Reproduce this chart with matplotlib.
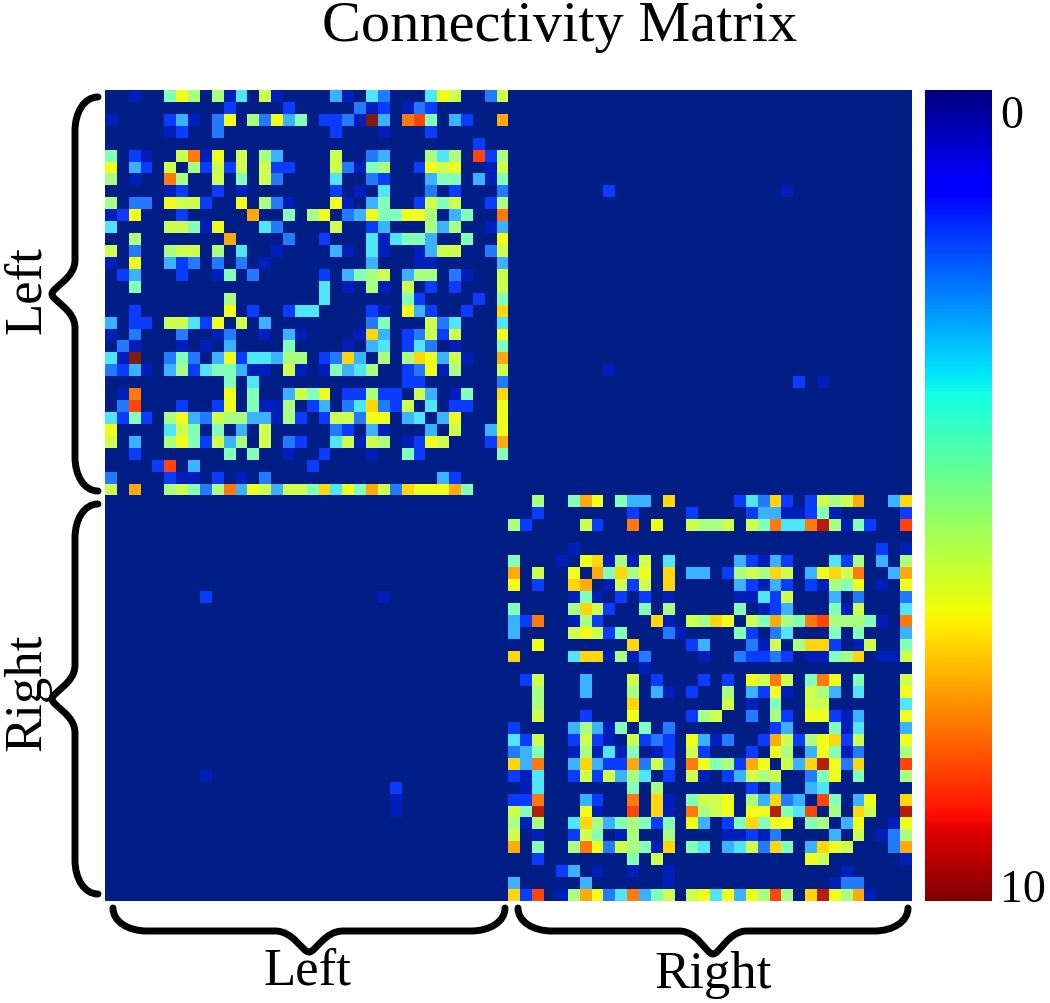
import matplotlib
matplotlib.use("Agg")
import matplotlib.pyplot as plt
import numpy as np
from matplotlib.cm import ScalarMappable
from matplotlib.colors import ListedColormap, Normalize
from matplotlib.patches import PathPatch
from matplotlib.path import Path

plt.rcParams['font.family'] = ['Liberation Serif', 'DejaVu Serif']

W, H = 1050, 1004
n_half = 34

# colour classes -> connectivity value
levels = {'a': 0.5, 'b': 1.6, 'c': 2.3, 'd': 2.9, 'e': 3.5, 'f': 4.3, 'g': 5.0, 'h': 5.7,
          'i': 6.3, 'j': 6.9, 'k': 7.4, 'l': 8.0, 'm': 8.6, 'n': 9.5, 'o': 10.0}

# upper triangle of left hemisphere, one string per row: "<col><class>"
left_rows = [
    "2a 5f 6i 7g 9g 10a 11e 13h 14a 19d 20a 22e 23c 27e 28i 29h 32c 33h",
    "10b 15b 21c 22a 23b 25a 26c 27b",
    "5b 6d 7a 9c 10i 12g 13c 14i 15d 16f 18b 19b 20c 21a 22o 23d 25l 26m 27f 29d 30b 33k",
    "5a 6b 9c 19b 23a 27b",
    "31b",
    "6h 7l 8a 9i 11h 13g 14d 19h 22c 23d 27g 28e 29g 31m 32b 33g",
    "7g 8b 9h 10b 11h 13h 14b 15b 19h 20c 21a 22f 23g 26b 27i 28h 29i 32a 33h",
    "9h 11f 13h 14c 19e 22c 23b 27d 28f 29f 31d 32a 33f",
    "9b 11a 19b 21a 23e 27c 29b 33c",
    "11i 13g 14c 15a 19i 20a 22d 23f 26b 27h 28f 29h 32b 33g",
    "12k 15f 17g 18i 20c 21d 22i 23f 24f 25i 26i 27g 29d 30f 33l",
    "13e 14c 19h 22b 23d 27g 28d 29g 32a 33d",
    "15c 18b 22e 23a 24e 25f 26f 27d 30f 33i",
    "14a 19d 20a 22e 23a 26a 27d 28h 29h 32c 33h",
    "22d 26a 27a 33d",
    "18b 20d 21f 22g 23h 25d 26g 27g 29c 30a 33h",
    "18e 20a 22g 23a 25h 27b 29b 33h",
    "18e 25f 26b 31b 33f",
    "22b 23a 25i 26d 27b 30b 33j",
    "22c 23f 27h 28c 29e 33e",
    "21a 22j 23d 25b 26c 27h 28b 29h 33i",
    "22d 23e 25b 26e 27c 29a 33f",
    "23g 25g 26j 27i 28d 29h 30a 33k",
    "25b 26c 27i 28a 29g 33h",
    "25b 26b 33c",
    "26h 27d 29a 30f 33j",
    "27e 29b 30b 33i",
    "28d 29i 33i",
    "29h 32d 33i",
    "32b 33k",
    "33f",
    "",
    "",
    "",
]

# same for right hemisphere
right_rows = [
    "2g 5f 6k 7i 9f 10d 11d 13j 19b 20e 21c 22j 23b 25b 26h 27g 28h 29k 32d 33j",
    "2b 10b 15b 20b 21d 22d 23a 24a 25b 26f 27a 33b",
    "6h 7b 10l 12i 15h 16g 17g 18h 20h 21f 22l 23e 24e 25l 26n 27g 28a 29f 30b 33m",
    "",
    "5a 31b 33a",
    "6i 7j 8a 9g 10a 11h 13e 19d 20b 21a 22d 23b 27e 28b 29g 31d 33g",
    "7k 8f 9j 10g 11i 13j 15d 16d 18b 19g 20h 21g 22j 23h 25d 26i 27j 28h 29l 32d 33k",
    "8a 9h 10b 11h 13j 19d 20b 21a 22d 23b 25b 26a 27g 28f 29i 31a 33i",
    "9b 11b 13a 19a 20a 21e 22b 23h 27d 29c 33c",
    "11f 13g 19f 21a 22b 23d 27f 28a 29h 33e",
    "12j 13a 15h 16g 17j 18i 20h 21f 22k 23g 24f 25l 26m 27g 28g 29g 30f 31a 33l",
    "13c 14a 19f 20b 22c 23e 27f 29f 33d",
    "15b 16d 20c 21a 22h 24g 25j 26j 27b 29a 30h 33f",
    "16a 19c 20b 21b 22c 23b 25a 26a 27f 28g 29j 31a 32a 33h",
    "",
    "16b 18b 20i 21h 22l 23h 25f 26l 27i 29f 33h",
    "18g 20d 21b 22i 23a 25h 26g 27d 29e 33i",
    "18h 20a 22f 25h 26h 33e",
    "20c 22g 23b 25i 26i 27b 28a 29d 33i",
    "22b 23d 27f 28a 29e 33d",
    "21b 22k 23h 24b 25g 26i 27j 28b 29h 33i",
    "22i 23g 25d 26i 27f 28a 29c 33g",
    "23h 24d 25j 26n 27i 28c 29j 33m",
    "25c 26f 27i 29f 33g",
    "25d 26e",
    "26m 27f 29d 30i 33j",
    "27g 29j 30h 33n",
    "28d 29i 32a 33i",
    "29h 31a 32c 33g",
    "32c 33k",
    "33a",
    "",
    "",
    "",
]

# few weak links between hemispheres (matrix row, matrix col, class)
cross_rows = [8, 8, 23, 24, 24, 24]
cross_cols = [42, 57, 42, 58, 59, 60]
cross_vals = ['b', 'a', 'a', 'b', 'a', 'a']


def fill_block(m, rows, offset):
    for r, row in enumerate(rows):
        for item in row.split():
            c = int(item[:-1])
            v = levels[item[-1]]
            m[r + offset, c + offset] = v
            m[c + offset, r + offset] = v


matrix = np.zeros((2 * n_half, 2 * n_half))
fill_block(matrix, left_rows, 0)
fill_block(matrix, right_rows, n_half)
for r, c, v in zip(cross_rows, cross_cols, cross_vals):
    matrix[c, r] = levels[v]
    if c != 59:
        matrix[r, c] = levels[v]

# matrix colours are a bit paler than the colour bar
rgb = plt.get_cmap('jet')(np.linspace(0, 1, 256))[:, :3].copy()
rgb[:, 0] = rgb[:, 0] + 0.35 * rgb[:, 1] * (1 - rgb[:, 0])
rgb[:, 1] = rgb[:, 1] + 0.12 * (1 - rgb[:, 1])
rgb[:, 2] = rgb[:, 2] + 0.05 * (1 - rgb[:, 2])
pale_jet = ListedColormap(rgb)
norm = Normalize(0, 10)


def px_axes(x0, y0, x1, y1):
    return fig.add_axes([x0 / W, 1 - y1 / H, (x1 - x0) / W, (y1 - y0) / H])


def brace(ax, x0, y0, x1, y1, spine, tip):
    # x0,y0 -> x1,y1 are the two ends, spine and tip are offsets away from the plot
    L = np.hypot(x1 - x0, y1 - y0)
    ux, uy = (x1 - x0) / L, (y1 - y0) / L
    if x0 == x1:
        px, py = -1, 0
    else:
        px, py = 0, 1
    r = 34
    r2 = 34
    m = L / 2
    pts = [(0, 0), (0, spine * 0.6), (r * 0.45, spine), (r, spine),
           (m - r2, spine), (m - r2 * 0.45, spine), (m - r2 * 0.2, tip), (m, tip),
           (m + r2 * 0.2, tip), (m + r2 * 0.45, spine), (m + r2, spine),
           (L - r, spine), (L - r * 0.45, spine), (L, spine * 0.6), (L, 0)]
    codes = [Path.MOVETO, Path.CURVE4, Path.CURVE4, Path.CURVE4,
             Path.LINETO, Path.CURVE4, Path.CURVE4, Path.CURVE4,
             Path.CURVE4, Path.CURVE4, Path.CURVE4,
             Path.LINETO, Path.CURVE4, Path.CURVE4, Path.CURVE4]
    verts = [(x0 + t * ux + d * px, y0 + t * uy + d * py) for t, d in pts]
    ax.add_patch(PathPatch(Path(verts, codes), fill=False, ec='black', lw=5, capstyle='round'))


fig = plt.figure(figsize=(W / 100, H / 100), dpi=100)

ax = px_axes(105, 91, 912, 902)
ax.imshow(matrix, cmap=pale_jet, norm=norm, aspect='auto', interpolation='nearest')
ax.set_xticks([])
ax.set_yticks([])
for s in ax.spines.values():
    s.set_visible(False)

cax = px_axes(925, 91, 992, 902)
cb = fig.colorbar(ScalarMappable(norm=norm, cmap='jet'), cax=cax)
cb.outline.set_visible(False)
cax.invert_yaxis()
cb.set_ticks([0.25, 9.8], labels=['0', '10'])
cax.tick_params(length=0, pad=6, labelsize=33)

over = fig.add_axes([0, 0, 1, 1])
over.set_xlim(0, W)
over.set_ylim(H, 0)
over.axis('off')
over.patch.set_alpha(0)

brace(over, 98, 98, 98, 492, 23, 46)
brace(over, 98, 505, 98, 895, 23, 46)
brace(over, 113, 909, 505, 909, 23, 44)
brace(over, 518, 909, 908, 909, 23, 46)

over.text(560, 27, 'Connectivity Matrix', fontsize=42, ha='center', va='center')
over.text(27, 290, 'Left', fontsize=38, rotation=90, ha='center', va='center')
over.text(27, 692, 'Right', fontsize=38, rotation=90, ha='center', va='center')
over.text(307, 972, 'Left', fontsize=38, ha='center', va='center')
over.text(713, 975, 'Right', fontsize=38, ha='center', va='center')

fig.savefig('out.png', dpi=100)
